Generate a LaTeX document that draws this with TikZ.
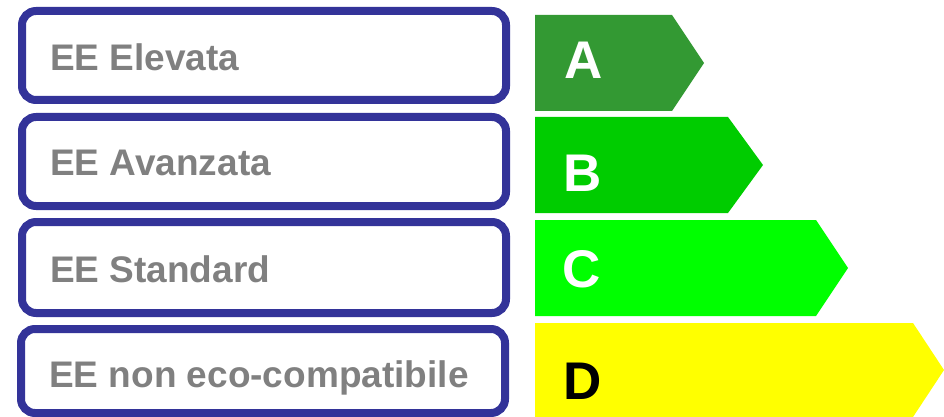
\documentclass[tikz,border=0pt]{standalone}
\usepackage{fontspec}
\setmainfont{Liberation Sans}
\usepackage{tikz}

\definecolor{frameblue}{RGB}{51,51,153}
\definecolor{labelgray}{RGB}{128,128,128}
\definecolor{classA}{RGB}{51,153,51}
\definecolor{classB}{RGB}{0,204,0}
\definecolor{classC}{RGB}{0,255,0}
\definecolor{classD}{RGB}{255,255,0}

\begin{document}
\begin{tikzpicture}[x=1pt,y=-1pt,
    levelbox/.style={draw=frameblue,line width=8pt,rounded corners=14pt},
    leveltext/.style={anchor=base west,inner sep=0pt,text=labelgray,
      font=\fontsize{37}{40}\selectfont\bfseries},
    classtext/.style={anchor=base west,inner sep=0pt,
      font=\fontsize{53}{56}\selectfont\bfseries}]
    \useasboundingbox (0,0) rectangle (944,417);
    % Level frames
    \draw[levelbox] (22,11) rectangle (506,100);
    \draw[levelbox] (22,117) rectangle (506,206);
    \draw[levelbox] (22,222) rectangle (506,313);
    \draw[levelbox] (21,329) rectangle (505,413);
    \node[leveltext] (elevata) at (50,71) {EE Elevata};
    \node[leveltext] (avanzata) at (50,175) {EE Avanzata};
    \node[leveltext] (standard) at (50,282) {EE Standard};
    \node[leveltext] (noneco) at (49,387) {EE non eco-compatibile};
    % Class arrows
    \fill[classA] (535,15) -- (672,15) -- (704,63) -- (672,111) -- (535,111) -- cycle;
    \fill[classB] (535,117) -- (728,117) -- (763,165) -- (728,213) -- (535,213) -- cycle;
    \fill[classC] (535,220) -- (816,220) -- (848,268) -- (816,316) -- (535,316) -- cycle;
    \fill[classD] (535,323) -- (913,323) -- (944,370) -- (913,417) -- (535,417) -- cycle;
    \node[classtext,text=white] (ca) at (564,79) {A};
    \node[classtext,text=white] (cb) at (563,191) {B};
    \node[classtext,text=white] (cc) at (562,287) {C};
    \node[classtext,text=black] (cd) at (563,399) {D};
\end{tikzpicture}
\end{document}
